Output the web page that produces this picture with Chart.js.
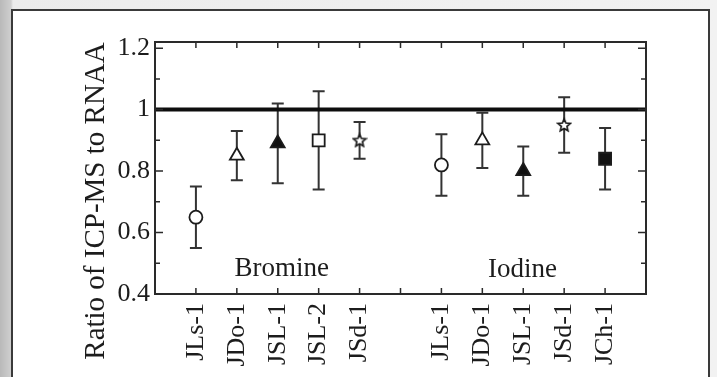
<!DOCTYPE html>
<html>
<head>
<meta charset="utf-8">
<script src="https://cdn.jsdelivr.net/npm/chart.js@4.4.1/dist/chart.umd.min.js"></script>
<style>
  html, body { margin: 0; padding: 0; }
  body { width: 717px; height: 377px; overflow: hidden; position: relative;
         background: linear-gradient(to right, #b9b9b9 0px, #cfcfcf 11px, #ececec 13px, #f2f2f2 100%); }
  #sheet { position: absolute; left: 11px; top: 9px; width: 695px; height: 380px;
           background: #fff; border: 2px solid #3a3a3a; }
  #c { position: absolute; left: 0; top: 0; }
</style>
</head>
<body>
<div id="sheet"></div>
<canvas id="c" width="717" height="377"></canvas>
<script>
// sample positions and tick labels (one empty slot between the two groups)
const xTickLabels = ["", "JLs-1", "JDo-1", "JSL-1", "JSL-2", "JSd-1", "",
                     "JLs-1", "JDo-1", "JSL-1", "JSd-1", "JCh-1", ""];
const yTicks = [0.4, 0.6, 0.8, 1, 1.2];
const yTickLabels = ["0.4", "0.6", "0.8", "1", "1.2"];
const yMinorTicks = [0.5, 0.7, 0.9, 1.1];

// Bromine
const bromineX = [1, 2, 3, 4, 5];
const bromineRatio = [0.65, 0.85, 0.89, 0.90, 0.90];
const bromineHigh = [0.75, 0.93, 1.02, 1.06, 0.96];
const bromineLow = [0.55, 0.77, 0.76, 0.74, 0.84];

// Iodine
const iodineX = [7, 8, 9, 10, 11];
const iodineRatio = [0.82, 0.90, 0.80, 0.95, 0.84];
const iodineHigh = [0.92, 0.99, 0.88, 1.04, 0.94];
const iodineLow = [0.72, 0.81, 0.72, 0.86, 0.74];

const referenceRatio = 1;

const ink = "#1c1c1c";
Chart.defaults.font.family = "'Liberation Serif', 'DejaVu Serif', serif";
Chart.defaults.color = ink;

// open five-point star marker
function makeStar () {
    const cv = document.createElement("canvas");
    cv.width = 16; cv.height = 16;
    const g = cv.getContext("2d");
    g.beginPath();
    for (let i = 0; i < 10; i++) {
        const r = i % 2 === 0 ? 6.5 : 3;
        const a = -Math.PI / 2 + i * Math.PI / 5;
        const px = 8 + r * Math.cos(a), py = 8.5 + r * Math.sin(a);
        if (i === 0) g.moveTo(px, py); else g.lineTo(px, py);
    }
    g.closePath();
    g.fillStyle = "#fff";
    g.fill();
    g.strokeStyle = ink;
    g.lineWidth = 1.7;
    g.stroke();
    return cv;
}
const star = makeStar();

const bromineStyles = ["circle", "triangle", "triangle", "rect", star];
const bromineFill = ["#fff", "#fff", "#111", "#fff", "#fff"];
const bromineRadius = [6.5, 8, 8, 8.5, 7];
const iodineStyles = ["circle", "triangle", "triangle", star, "rect"];
const iodineFill = ["#fff", "#fff", "#111", "#fff", "#111"];
const iodineRadius = [6.5, 8, 8, 7, 8.5];

const toPoints = (xs, ys) => xs.map((x, i) => ({ x: x, y: ys[i] }));

const frameAndBars = {
    id: "frameAndBars",
    beforeDatasetsDraw (chart) {
        const { ctx, scales: { x, y } } = chart;
        ctx.save();
        ctx.strokeStyle = "#333";
        ctx.lineWidth = 2;
        const groups = [[bromineX, bromineHigh, bromineLow], [iodineX, iodineHigh, iodineLow]];
        groups.forEach(([xs, hi, lo]) => {
            xs.forEach((v, i) => {
                const px = x.getPixelForValue(v);
                const top = y.getPixelForValue(hi[i]);
                const bot = y.getPixelForValue(lo[i]);
                ctx.beginPath();
                ctx.moveTo(px, top); ctx.lineTo(px, bot);
                ctx.moveTo(px - 6, top); ctx.lineTo(px + 6, top);
                ctx.moveTo(px - 6, bot); ctx.lineTo(px + 6, bot);
                ctx.stroke();
            });
        });
        ctx.restore();
    },
    afterDraw (chart) {
        const { ctx, chartArea: a, scales: { x, y } } = chart;
        ctx.save();
        ctx.strokeStyle = "#2a2a2a";
        ctx.lineWidth = 2;
        ctx.strokeRect(a.left, a.top, a.right - a.left, a.bottom - a.top);

        ctx.lineWidth = 1.5;
        ctx.beginPath();
        for (let v = 1; v < xTickLabels.length - 1; v++) {
            const px = x.getPixelForValue(v);
            ctx.moveTo(px, a.bottom); ctx.lineTo(px, a.bottom - 6);
            ctx.moveTo(px, a.top); ctx.lineTo(px, a.top + 6);
        }
        yTicks.concat(yMinorTicks).forEach(v => {
            const py = y.getPixelForValue(v);
            const len = yTicks.includes(v) ? 8 : 5;
            ctx.moveTo(a.left, py); ctx.lineTo(a.left + len, py);
            ctx.moveTo(a.right, py); ctx.lineTo(a.right - len, py);
        });
        ctx.stroke();

        // group names
        ctx.fillStyle = ink;
        ctx.font = "27px 'Liberation Serif', serif";
        ctx.textAlign = "center";
        ctx.textBaseline = "alphabetic";
        ctx.fillText("Bromine", x.getPixelForValue(3.1), y.getPixelForValue(0.458));
        ctx.fillText("Iodine", x.getPixelForValue(8.98), y.getPixelForValue(0.455));

        // y axis title
        ctx.translate(96, 201);
        ctx.rotate(-Math.PI / 2);
        ctx.font = "29px 'Liberation Serif', serif";
        ctx.textBaseline = "middle";
        ctx.fillText("Ratio of ICP-MS to RNAA", 0, 0);
        ctx.restore();
    }
};

new Chart(document.getElementById("c"), {
    type: "scatter",
    data: {
        datasets: [
            {
                label: "Bromine",
                data: toPoints(bromineX, bromineRatio),
                pointStyle: bromineStyles,
                backgroundColor: bromineFill,
                borderColor: ink,
                borderWidth: 1.8,
                pointRadius: bromineRadius,
                order: 1
            },
            {
                label: "Iodine",
                data: toPoints(iodineX, iodineRatio),
                pointStyle: iodineStyles,
                backgroundColor: iodineFill,
                borderColor: ink,
                borderWidth: 1.8,
                pointRadius: iodineRadius,
                order: 1
            },
            {
                type: "line",
                label: "Reference",
                data: [{ x: 0, y: referenceRatio }, { x: xTickLabels.length - 1, y: referenceRatio }],
                borderColor: "#0d0d0d",
                borderWidth: 4,
                pointRadius: 0,
                order: 2
            }
        ]
    },
    options: {
        responsive: false,
        animation: false,
        layout: { padding: { left: 0, top: 42, right: 71, bottom: 0 } },
        plugins: {
            legend: { display: false },
            tooltip: { enabled: false }
        },
        scales: {
            x: {
                type: "linear",
                min: 0,
                max: xTickLabels.length - 1,
                grid: { display: false, drawTicks: false },
                border: { display: false },
                afterBuildTicks: axis => { axis.ticks = xTickLabels.map((_, i) => ({ value: i })); },
                afterFit: axis => { axis.height = 83; },
                ticks: {
                    autoSkip: false,
                    maxRotation: 90,
                    minRotation: 90,
                    padding: 9,
                    color: ink,
                    font: { size: 26 },
                    callback: value => xTickLabels[value]
                }
            },
            y: {
                min: 0.4,
                max: 1.22,
                grid: { display: false, drawTicks: false },
                border: { display: false },
                afterBuildTicks: axis => { axis.ticks = yTicks.map(v => ({ value: v })); },
                afterFit: axis => { axis.width = 155; },
                ticks: {
                    padding: 5,
                    color: ink,
                    font: { size: 26 },
                    callback: value => yTickLabels[yTicks.indexOf(value)]
                }
            }
        }
    },
    plugins: [frameAndBars]
});
</script>
</body>
</html>
